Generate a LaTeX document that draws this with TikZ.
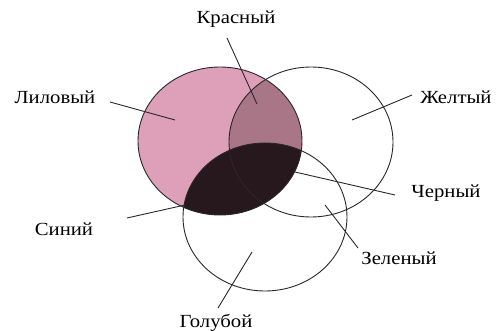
\documentclass[tikz,border=0pt]{standalone}
\usepackage{fontspec}
\setmainfont{Liberation Serif}
\definecolor{lilac}{RGB}{222,160,184}
\definecolor{redmix}{RGB}{168,118,134}
\definecolor{darkmix}{RGB}{38,24,29}
\definecolor{ink}{RGB}{40,40,40}
\begin{document}
\begin{tikzpicture}[x=1pt,y=-1pt,
  outline/.style={draw=ink,line width=0.9pt},
  leader/.style={draw=ink,line width=0.9pt},
  lbl/.style={font=\fontsize{18.5}{20}\selectfont,inner sep=0pt,xscale=1.12,text=black}]
\useasboundingbox (0,0) rectangle (500,331);
% fills
\fill[lilac] (220,141) ellipse [x radius=82,y radius=74];
\begin{scope}
  \clip (220,141) ellipse [x radius=82,y radius=74];
  \fill[redmix] (311,142) ellipse [x radius=82,y radius=75];
  \fill[darkmix] (265,217) ellipse [x radius=82,y radius=74];
\end{scope}
% outlines
\draw[outline] (220,141) ellipse [x radius=82,y radius=74];
\draw[outline] (311,142) ellipse [x radius=82,y radius=75];
\draw[outline] (265,217) ellipse [x radius=82,y radius=74];
% labels
\node[lbl] (krasny) at (236,19) {Красный};
\node[lbl] (lilovy) at (55,97) {Лиловый};
\node[lbl] (zhelty) at (456,97) {Желтый};
\node[lbl] (cherny) at (446,193) {Черный};
\node[lbl] (zeleny) at (399,258) {Зеленый};
\node[lbl] (siniy) at (64,229) {Синий};
\node[lbl] (goluboy) at (216,323) {Голубой};
% leader coordinates
\coordinate (k1) at (227,38);   \coordinate (k2) at (257,104);
\coordinate (l1) at (110,102);  \coordinate (l2) at (175,120);
\coordinate (z1) at (412,95);   \coordinate (z2) at (352,120);
\coordinate (c1) at (395,195);  \coordinate (c2) at (295,172);
\coordinate (g1) at (358,248);  \coordinate (g2) at (325,205);
\coordinate (s1) at (127,218);  \coordinate (s2) at (185,205);
\coordinate (b1) at (218,308);  \coordinate (b2) at (252,252);
% leaders
\draw[leader] (k1) -- (k2);
\draw[leader] (l1) -- (l2);
\draw[leader] (z1) -- (z2);
\draw[leader] (c1) -- (c2);
\draw[leader] (g1) -- (g2);
\draw[leader] (s1) -- (s2);
\draw[leader] (b1) -- (b2);
\end{tikzpicture}
\end{document}
